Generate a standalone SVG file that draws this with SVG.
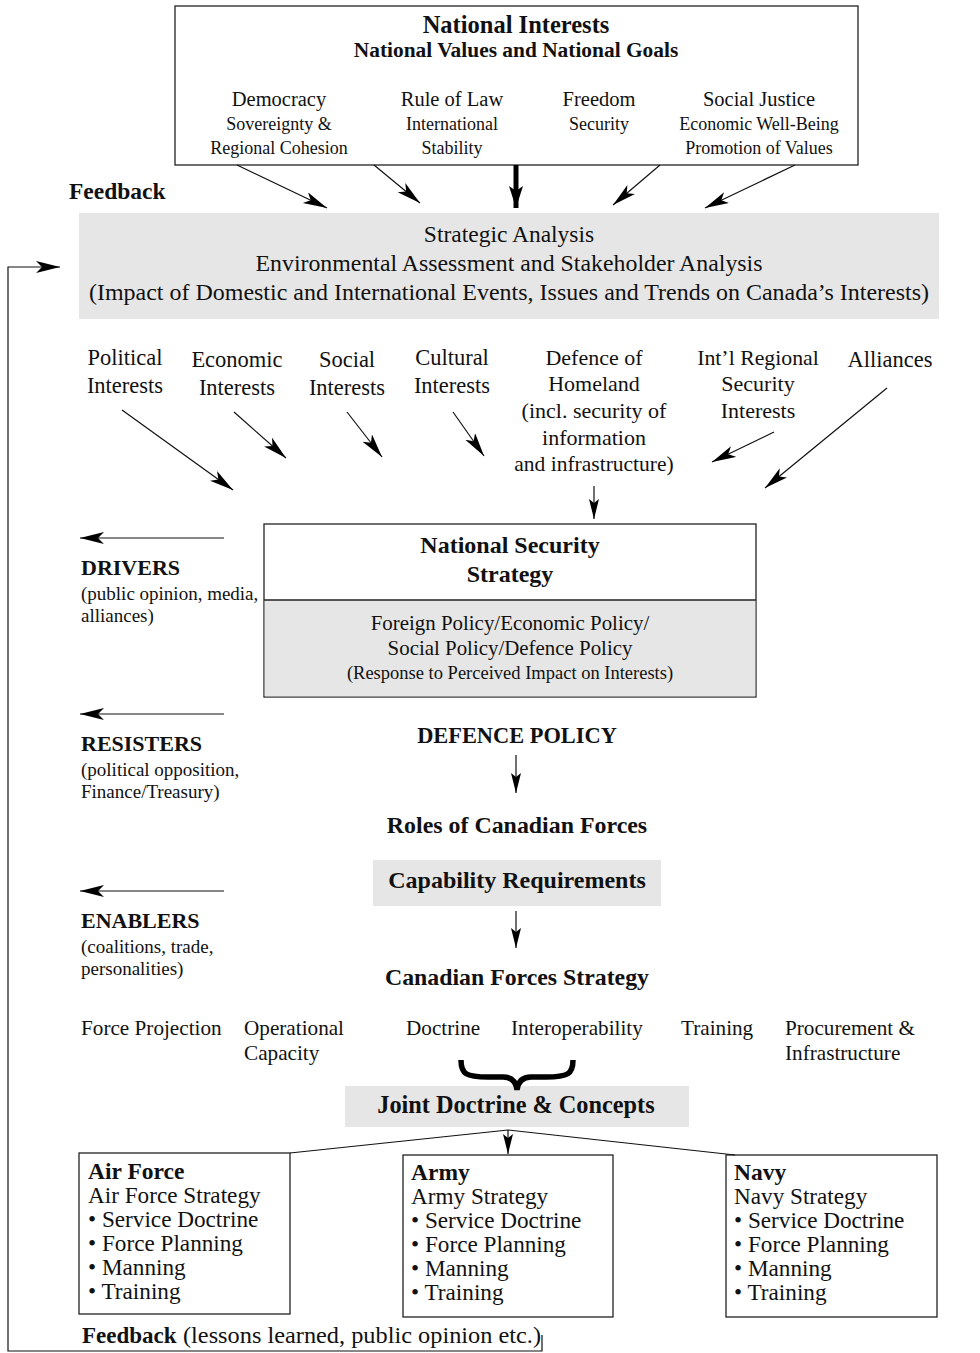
<svg xmlns="http://www.w3.org/2000/svg" width="980" height="1353" viewBox="0 0 980 1353">
<defs>
<style>
text{font-family:"Liberation Serif","Times New Roman",serif;fill:#111;}
.b{font-weight:bold;}
.c{text-anchor:middle;}
.box{fill:#fff;stroke:#222;stroke-width:1.3;}
.gray{fill:#e6e6e6;stroke:none;}
.ln{stroke:#111;stroke-width:1.2;fill:none;}
</style>
<marker id="ah" markerUnits="userSpaceOnUse" markerWidth="26" markerHeight="14" refX="24" refY="6" orient="auto">
<path d="M0,0 L24,6 L0,12 L6,6 z" fill="#000"/>
</marker>
<marker id="as" markerUnits="userSpaceOnUse" markerWidth="22" markerHeight="12" refX="20" refY="5" orient="auto">
<path d="M0,0 L20,5 L0,10 L4,5 z" fill="#000"/>
</marker>
<marker id="at" markerUnits="userSpaceOnUse" markerWidth="24" markerHeight="16" refX="22" refY="7" orient="auto">
<path d="M0,0 L22,7 L0,14 L5,7 z" fill="#000"/>
</marker>
</defs>
<rect width="980" height="1353" fill="#fff"/>

<g id="national-interests">
<rect class="box" x="175" y="6" width="683" height="159"/>
<text class="b c" x="516" y="33" font-size="24.5">National Interests</text>
<text class="b c" x="516" y="57" font-size="21.4">National Values and National Goals</text>
<text class="c" x="279" y="106" font-size="20.5">Democracy</text>
<text class="c" x="279" y="130" font-size="18">Sovereignty &amp;</text>
<text class="c" x="279" y="154" font-size="18">Regional Cohesion</text>
<text class="c" x="452" y="106" font-size="20.5">Rule of Law</text>
<text class="c" x="452" y="130" font-size="18">International</text>
<text class="c" x="452" y="154" font-size="18">Stability</text>
<text class="c" x="599" y="106" font-size="20.5">Freedom</text>
<text class="c" x="599" y="130" font-size="18">Security</text>
<text class="c" x="759" y="106" font-size="20.5">Social Justice</text>
<text class="c" x="759" y="130" font-size="18">Economic Well-Being</text>
<text class="c" x="759" y="154" font-size="18">Promotion of Values</text>
</g>

<g id="feedback-label">
<text class="b" x="69" y="199" font-size="23.5">Feedback</text>
</g>

<g id="strategic-analysis">
<rect class="gray" x="79" y="213" width="860" height="106"/>
<text class="c" x="509" y="242" font-size="23.5">Strategic Analysis</text>
<text class="c" x="509" y="271" font-size="23.5" textLength="507" lengthAdjust="spacingAndGlyphs">Environmental Assessment and Stakeholder Analysis</text>
<text class="c" x="509" y="300" font-size="23" textLength="840" lengthAdjust="spacingAndGlyphs">(Impact of Domestic and International Events, Issues and Trends on Canada’s Interests)</text>
</g>

<g id="interests">
<text class="c" font-size="22.5" x="125" y="365">Political</text>
<text class="c" font-size="22.5" x="125" y="393">Interests</text>
<text class="c" font-size="22.5" x="237" y="367">Economic</text>
<text class="c" font-size="22.5" x="237" y="395">Interests</text>
<text class="c" font-size="22.5" x="347" y="367">Social</text>
<text class="c" font-size="22.5" x="347" y="395">Interests</text>
<text class="c" font-size="22.5" x="452" y="365">Cultural</text>
<text class="c" font-size="22.5" x="452" y="393">Interests</text>
<text class="c" font-size="22" x="594" y="365">Defence of</text>
<text class="c" font-size="22" x="594" y="391">Homeland</text>
<text class="c" font-size="22" x="594" y="418">(incl. security of</text>
<text class="c" font-size="22" x="594" y="445">information</text>
<text class="c" font-size="21.5" x="594" y="471">and infrastructure)</text>
<text class="c" font-size="21.8" x="758" y="365">Int’l Regional</text>
<text class="c" font-size="22" x="758" y="391">Security</text>
<text class="c" font-size="22" x="758" y="418">Interests</text>
<text class="c" font-size="22.5" x="890" y="367">Alliances</text>
</g>

<g id="national-security-strategy">
<rect class="box" x="264" y="524" width="492" height="173"/>
<rect x="264.7" y="600" width="490.6" height="96.3" fill="#e6e6e6"/>
<line x1="264" y1="600" x2="756" y2="600" stroke="#222" stroke-width="1.6"/>
<text class="b c" x="510" y="553" font-size="24">National Security</text>
<text class="b c" x="510" y="582" font-size="24">Strategy</text>
<text class="c" x="510" y="630" font-size="20.9">Foreign Policy/Economic Policy/</text>
<text class="c" x="510" y="655" font-size="20.9">Social Policy/Defence Policy</text>
<text class="c" x="510" y="679" font-size="18.5">(Response to Perceived Impact on Interests)</text>
</g>

<g id="drivers">
<text class="b" x="81" y="575" font-size="22">DRIVERS</text>
<text x="81" y="600" font-size="19">(public opinion, media,</text>
<text x="81" y="622" font-size="19">alliances)</text>
</g>
<g id="resisters">
<text class="b" x="81" y="751" font-size="22">RESISTERS</text>
<text x="81" y="776" font-size="19">(political opposition,</text>
<text x="81" y="798" font-size="19">Finance/Treasury)</text>
</g>
<g id="enablers">
<text class="b" x="81" y="928" font-size="22">ENABLERS</text>
<text x="81" y="953" font-size="19">(coalitions, trade,</text>
<text x="81" y="975" font-size="19">personalities)</text>
</g>

<g id="defence-policy">
<text class="b c" x="517" y="743" font-size="22.4">DEFENCE POLICY</text>
</g>
<g id="roles">
<text class="b c" x="517" y="833" font-size="23.9">Roles of Canadian Forces</text>
</g>
<g id="capability-requirements">
<rect class="gray" x="373" y="860" width="288" height="46"/>
<text class="b c" x="517" y="888" font-size="24">Capability Requirements</text>
</g>
<g id="cf-strategy">
<text class="b c" x="517" y="985" font-size="23.8">Canadian Forces Strategy</text>
</g>

<g id="cf-elements">
<text x="81" y="1035" font-size="21.2">Force Projection</text>
<text x="244" y="1035" font-size="21.2">Operational</text>
<text x="244" y="1060" font-size="21.2">Capacity</text>
<text x="406" y="1035" font-size="21.2">Doctrine</text>
<text x="511" y="1035" font-size="21.2">Interoperability</text>
<text x="681" y="1035" font-size="21.2">Training</text>
<text x="785" y="1035" font-size="21.2">Procurement &amp;</text>
<text x="785" y="1060" font-size="21.2">Infrastructure</text>
</g>

<g id="joint-doctrine">
<rect class="gray" x="345" y="1086" width="344" height="41"/>
<text class="b c" x="516" y="1113" font-size="24.3">Joint Doctrine &amp; Concepts</text>
</g>

<g id="air-force">
<rect class="box" x="79" y="1153" width="211" height="161"/>
<text class="b" x="88" y="1179" font-size="23.5">Air Force</text>
<text x="88" y="1203" font-size="23.2">Air Force Strategy</text>
<text x="88" y="1227" font-size="23.2">• Service Doctrine</text>
<text x="88" y="1251" font-size="23.2">• Force Planning</text>
<text x="88" y="1275" font-size="23.2">• Manning</text>
<text x="88" y="1299" font-size="23.2">• Training</text>
</g>
<g id="army">
<rect class="box" x="403" y="1155" width="210" height="162"/>
<text class="b" x="411" y="1180" font-size="23.5">Army</text>
<text x="411" y="1204" font-size="23.2">Army Strategy</text>
<text x="411" y="1228" font-size="23.2">• Service Doctrine</text>
<text x="411" y="1252" font-size="23.2">• Force Planning</text>
<text x="411" y="1276" font-size="23.2">• Manning</text>
<text x="411" y="1300" font-size="23.2">• Training</text>
</g>
<g id="navy">
<rect class="box" x="726" y="1155" width="211" height="162"/>
<text class="b" x="734" y="1180" font-size="23.5">Navy</text>
<text x="734" y="1204" font-size="23.2">Navy Strategy</text>
<text x="734" y="1228" font-size="23.2">• Service Doctrine</text>
<text x="734" y="1252" font-size="23.2">• Force Planning</text>
<text x="734" y="1276" font-size="23.2">• Manning</text>
<text x="734" y="1300" font-size="23.2">• Training</text>
</g>

<g id="feedback-bottom">
<text class="b" x="82" y="1343" font-size="23">Feedback</text>
<text x="183" y="1343" font-size="22.5" textLength="358" lengthAdjust="spacingAndGlyphs">(lessons learned, public opinion etc.)</text>
</g>

<g id="connectors">
<line class="ln" x1="237" y1="165" x2="327" y2="208" marker-end="url(#ah)"/>
<line class="ln" x1="374" y1="165" x2="420" y2="203" marker-end="url(#ah)"/>
<line x1="516" y1="165" x2="516" y2="208" stroke="#000" stroke-width="5" marker-end="url(#at)"/>
<line class="ln" x1="660" y1="165" x2="613" y2="205" marker-end="url(#ah)"/>
<line class="ln" x1="795" y1="165" x2="705" y2="208" marker-end="url(#ah)"/>

<line class="ln" x1="122" y1="410" x2="233" y2="490" marker-end="url(#ah)"/>
<line class="ln" x1="234" y1="412" x2="286" y2="458" marker-end="url(#ah)"/>
<line class="ln" x1="347" y1="412" x2="382" y2="457" marker-end="url(#ah)"/>
<line class="ln" x1="453" y1="412" x2="484" y2="456" marker-end="url(#ah)"/>
<line class="ln" x1="594" y1="486" x2="594" y2="519" marker-end="url(#as)"/>
<line class="ln" x1="774" y1="432" x2="712" y2="462" marker-end="url(#ah)"/>
<line class="ln" x1="887" y1="388" x2="765" y2="488" marker-end="url(#ah)"/>

<line class="ln" x1="224" y1="538" x2="80" y2="538" marker-end="url(#ah)"/>
<line class="ln" x1="224" y1="714" x2="80" y2="714" marker-end="url(#ah)"/>
<line class="ln" x1="224" y1="891" x2="80" y2="891" marker-end="url(#ah)"/>

<line class="ln" x1="516" y1="755" x2="516" y2="793" marker-end="url(#as)"/>
<line class="ln" x1="516" y1="911" x2="516" y2="948" marker-end="url(#as)"/>

<path d="M461,1060 C461,1074 466,1077 488,1077 L503,1077 C512,1077 516,1082 517,1090 C518,1082 522,1077 531,1077 L546,1077 C568,1077 573,1074 573,1060" fill="none" stroke="#000" stroke-width="5.5"/>

<line class="ln" x1="508" y1="1130" x2="290" y2="1153"/>
<line class="ln" x1="508" y1="1130" x2="735" y2="1155"/>
<line class="ln" x1="508" y1="1130" x2="508" y2="1154" marker-end="url(#as)"/>

<polyline class="ln" points="542,1335 542,1351 8,1351 8,267 60,267" marker-end="url(#ah)"/>
</g>
</svg>
